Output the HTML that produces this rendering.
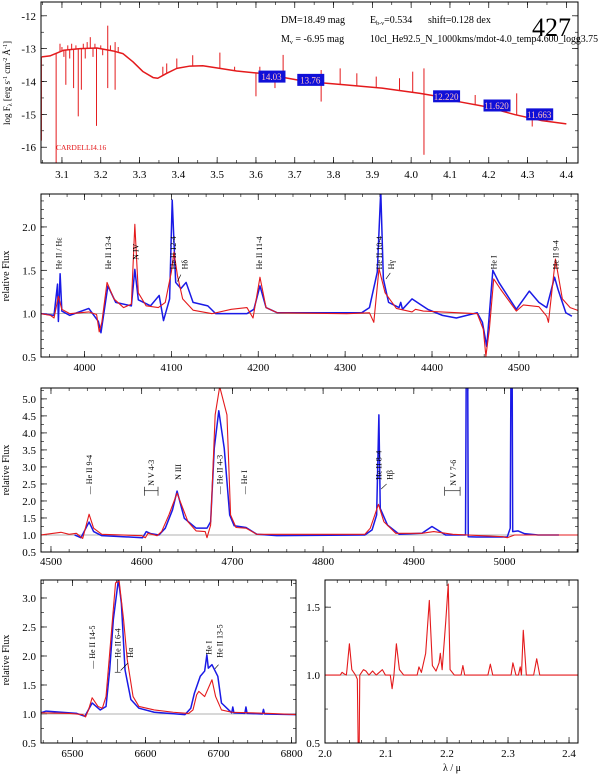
<!DOCTYPE html>
<html><head><meta charset="utf-8">
<style>
html,body{margin:0;padding:0;background:#fff;}
svg{display:block;font-family:"Liberation Serif",serif;}
</style></head>
<body>
<svg id="chart" width="600" height="775" viewBox="0 0 600 775" xmlns="http://www.w3.org/2000/svg"></svg>
<script>
// ---------- Panel 1: SED (log lambda vs log F) ----------
const sedLogLam = [3.048,3.069,3.104,3.147,3.19,3.232,3.257,3.283,3.309,3.335,3.347,3.37,3.396,3.43,3.463,3.507,3.55,3.61,3.729,3.827,3.925,4.023,4.072,4.121,4.19,4.268,4.337,4.40];
const sedLogF   = [-13.25,-13.22,-13.05,-13.0,-12.98,-13.07,-13.15,-13.40,-13.70,-13.88,-13.90,-13.75,-13.60,-13.53,-13.52,-13.60,-13.68,-13.75,-14.00,-14.10,-14.20,-14.36,-14.46,-14.61,-14.76,-15.01,-15.19,-15.29];
const sedSpikeLam = [3.047,3.085,3.142,3.15,3.189,3.218,3.237,3.13,3.11,3.6,3.218,3.237,3.173,3.136,3.1,3.396,3.437,3.507,3.36,3.37,3.545,3.61,3.095,3.105,3.115,3.12,3.125,3.155,3.16,3.165,3.18,3.185,3.2,3.205,3.225,3.245,3.649,3.67,3.768,3.768,3.817,3.86,3.91,3.97,4.004,4.033,4.033,4.165,4.272,4.312,4.35];
const sedSpikeTip = [-15.8,-16.5,-15.06,-14.25,-15.35,-14.2,-14.25,-14.2,-14.1,-14.45,-12.3,-12.8,-12.65,-12.9,-12.95,-13.3,-13.2,-13.12,-13.55,-13.45,-13.55,-13.55,-12.85,-13.25,-12.9,-13.3,-12.85,-12.85,-13.3,-12.8,-13.25,-12.85,-12.9,-13.2,-12.9,-12.95,-14.2,-13.19,-14.61,-13.65,-13.6,-13.75,-13.85,-13.9,-13.70,-16.23,-13.6,-14.41,-14.36,-15.37,-15.0];
const photLam = [3.64,3.74,4.09,4.22,4.33];
const photVal = [-13.85,-13.95,-14.45,-14.73,-15.0];
const photLabels = ["14.03","13.76","12.220","11.620","11.663"];
const p1XTicks = [3.1,3.2,3.3,3.4,3.5,3.6,3.7,3.8,3.9,4.0,4.1,4.2,4.3,4.4];
const p1YTicks = [-12,-13,-14,-15,-16];

// ---------- Panel 2: 3950-4570 ----------
const p2RedLam = [3950,3961,3965,3970,3974,3983,4005,4014,4017,4020,4026,4034,4045,4054,4058,4062,4071,4085,4093,4100,4103,4107,4113,4125,4147,4169,4187,4194,4202,4209,4222,4302,4328,4333,4339,4346,4359,4377,4381,4390,4452,4459,4462,4466,4471,4479,4497,4505,4523,4532,4534,4542,4550,4559,4570];
const p2RedVal = [1.00,0.98,0.95,1.20,1.05,1.00,1.02,0.99,0.79,0.90,1.36,1.17,1.07,1.11,2.03,1.24,1.09,1.07,1.13,1.48,1.71,1.44,1.17,1.04,1.00,1.05,1.07,0.95,1.42,1.07,1.01,1.00,1.01,0.90,1.52,1.24,1.06,1.02,1.05,1.03,1.00,0.82,0.51,0.82,1.40,1.28,1.03,1.10,1.08,0.97,0.90,1.63,1.17,1.07,1.03];
const p2BlueLam = [3950,3965,3969,3970,3972,3974,3983,4005,4016,4019,4027,4036,4054,4058,4062,4076,4086,4091,4098,4101,4105,4111,4117,4125,4142,4151,4187,4195,4202,4209,4222,4319,4328,4337,4341,4344,4350,4362,4364,4366,4377,4386,4395,4412,4428,4452,4458,4463,4470,4477,4497,4512,4523,4532,4541,4545,4554,4561];
const p2BlueVal = [1.00,0.98,1.34,0.91,1.46,1.03,0.98,1.06,0.91,0.78,1.32,1.13,1.09,1.51,1.16,1.09,1.21,0.92,1.17,2.31,1.36,1.29,1.36,1.13,1.09,1.00,1.00,1.05,1.32,1.07,1.01,1.01,1.07,1.48,2.42,1.40,1.13,1.07,1.13,1.05,1.17,1.11,1.05,0.98,0.95,1.01,0.90,0.62,1.50,1.36,1.05,1.26,1.13,1.07,1.42,1.28,1.01,0.97];
const p2LabelLam = [3970,4027,4059,4102,4115,4201,4339,4353,4471,4542];
const p2LabelText = ["He II / Hε","He II 13-4","N IV","He II 12-4","Hδ","He II 11-4","He II 10-4","Hγ","He I","He II 9-4"];
const p2LabelBase = [1.51,1.51,1.62,1.51,1.51,1.51,1.51,1.51,1.51,1.51];
const p2XTicks = [4000,4100,4200,4300,4400,4500];
const p2YTicks = [0.5,1.0,1.5,2.0];

// ---------- Panel 3: 4489-5081 ----------
const p3RedLam = [4489,4511,4520,4528,4535,4542,4547,4556,4600,4604,4607,4617,4622,4630,4639,4651,4660,4670,4672,4676,4681,4686,4694,4698,4704,4715,4727,4846,4848,4852,4861,4867,4880,4909,4922,4943,4998,5003,5011,5081];
const p3RedVal = [1.00,1.08,1.02,1.05,0.90,1.61,1.20,1.02,0.98,0.92,1.05,0.98,1.10,1.59,2.23,1.39,1.12,1.10,0.92,1.29,4.53,5.36,4.53,1.59,1.22,1.20,1.02,1.02,1.08,1.20,1.90,1.39,1.05,1.05,1.10,1.02,0.95,0.92,1.00,1.00];
const p3BlueLam = [4526,4533,4542,4547,4556,4601,4605,4610,4619,4626,4634,4639,4647,4660,4672,4676,4680,4685,4691,4697,4702,4715,4727,4749,4846,4854,4859,4861.5,4863,4871,4884,4909,4920,4926,4935,4957,4957.8,4959.4,4960,4969,5003,5006.3,5007.1,5008.4,5009,5015,5022,5037,5060];
const p3BlueVal = [1.00,0.92,1.38,1.10,0.98,0.92,1.10,1.04,1.00,1.20,1.74,2.29,1.49,1.20,1.20,1.39,3.55,4.65,3.55,1.59,1.27,1.22,1.02,0.98,1.00,1.15,1.59,4.53,1.78,1.29,1.02,1.05,1.25,1.15,1.00,1.00,6.0,6.0,0.95,0.94,0.94,1.20,6.0,6.0,1.10,1.12,1.04,1.00,1.00];
const p3LabelLam = [4542,4610,4640,4686,4713,4861,4873,4943];
const p3LabelText = ["— He II 9-4","N V 4-3","N III","— He II 4-3","— He I","He II 8-4","Hβ","N V 7-6"];
const p3LabelBase = [2.20,2.45,2.62,2.20,2.20,2.62,2.62,2.45];
const p3XTicks = [4500,4600,4700,4800,4900,5000];
const p3YTicks = [0.5,1.0,1.5,2.0,2.5,3.0,3.5,4.0,4.5,5.0];

// ---------- Panel 4: 6457-6806 ----------
const p4RedLam = [6457,6496,6514,6518,6522,6527,6535,6541,6546,6551,6559,6564,6570,6575,6583,6591,6612,6638,6659,6665,6670,6673,6681,6691,6696,6704,6718,6770,6806];
const p4RedVal = [1.02,1.01,0.99,0.95,1.07,1.28,1.13,1.10,1.30,2.05,3.26,3.29,2.63,1.94,1.30,1.13,1.07,1.03,1.01,1.07,1.33,1.39,1.30,1.59,1.30,1.07,1.03,1.01,0.99];
const p4BlueLam = [6457,6464,6506,6517,6527,6538,6546,6551,6556,6563,6567,6572,6580,6591,6612,6654,6662,6667,6675,6681,6684,6686,6691,6699,6704,6718,6719.5,6721,6736,6737.5,6739,6760,6761.5,6763,6806];
const p4BlueVal = [1.02,1.05,1.01,0.96,1.19,1.07,1.13,1.76,2.63,3.32,2.91,1.76,1.25,1.10,1.03,0.99,1.10,1.36,1.65,1.74,2.02,1.79,1.85,1.65,1.19,1.02,1.12,1.02,1.01,1.12,1.01,1.00,1.08,1.00,0.99];
const p4LabelLam = [6527,6562,6579,6686,6701];
const p4LabelText = ["— He II 14-5","He II 6-4","Hα","He I","He II 13-5"];
const p4LabelBase = [1.78,1.97,1.97,2.02,1.97];
const p4XTicks = [6500,6600,6700,6800];
const p4YTicks = [0.5,1.0,1.5,2.0,2.5,3.0];

// ---------- Panel 5: K band 2.0-2.415 micron ----------
const p5Lam = [2.000,2.025,2.028,2.031,2.035,2.036,2.040,2.044,2.050,2.053,2.0546,2.0559,2.057,2.063,2.067,2.072,2.078,2.084,2.094,2.099,2.107,2.110,2.113,2.117,2.122,2.129,2.151,2.154,2.158,2.165,2.171,2.176,2.182,2.187,2.189,2.192,2.198,2.202,2.205,2.212,2.223,2.226,2.229,2.254,2.267,2.271,2.275,2.305,2.308,2.313,2.317,2.320,2.322,2.325,2.330,2.342,2.347,2.352,2.415];
const p5Val = [1.00,1.00,1.02,1.01,1.00,1.04,1.23,1.04,1.00,0.97,0.40,0.40,1.00,1.04,1.03,1.00,1.03,1.00,1.04,1.00,1.00,0.90,1.00,1.23,1.04,1.00,1.00,1.06,1.02,1.16,1.55,1.07,1.03,1.09,1.16,1.04,1.40,1.67,1.04,1.00,1.00,1.07,1.00,1.00,1.00,1.08,1.00,1.00,1.09,1.00,1.00,1.06,1.00,1.33,1.00,1.00,1.12,1.00,1.00];
const p5XTicks = [2.0,2.1,2.2,2.3,2.4];
const p5YTicks = [0.5,1.0,1.5];

const NS = "http://www.w3.org/2000/svg";
const svg = document.getElementById('chart');
function mk(tag, attrs, parent){
  const e = document.createElementNS(NS, tag);
  for (const k in attrs) e.setAttribute(k, attrs[k]);
  (parent||svg).appendChild(e);
  return e;
}
function scale(d0,d1,p0,p1){ return v => p0 + (v-d0)/(d1-d0)*(p1-p0); }

function makePanel(name, L, R, T, B, x0, x1, y0, y1){
  const g = mk('g', {});
  
  
  const clipId = name + '-clip';
  const cp = mk('clipPath', {id: clipId}, g);
  mk('rect', {x:L, y:T, width:R-L, height:B-T}, cp);
  return {g, L, R, T, B, sx: scale(x0,x1,L,R), sy: scale(y0,y1,B,T), x0, x1, y0, y1, clip: 'url(#'+clipId+')'};
}
function frame(P){
  const r = mk('rect', {x:P.L, y:P.T, width:P.R-P.L, height:P.B-P.T, fill:'none', stroke:'#000', 'stroke-width':1}, P.g);
  
  
}
function xAxis(P, ticks, minorStep, fmt, labelY){
  const ax = mk('g', {}, P.g);
  
  
  for (let v = Math.ceil(P.x0/minorStep)*minorStep; v <= P.x1 + 1e-9; v += minorStep){
    const x = P.sx(v);
    mk('line', {x1:x, x2:x, y1:P.B, y2:P.B-3, stroke:'#000', 'stroke-width':0.6}, ax);
    mk('line', {x1:x, x2:x, y1:P.T, y2:P.T+3, stroke:'#000', 'stroke-width':0.6}, ax);
  }
  ticks.forEach(v => {
    const x = P.sx(v);
    mk('line', {x1:x, x2:x, y1:P.B, y2:P.B-6, stroke:'#000', 'stroke-width':0.7}, ax);
    mk('line', {x1:x, x2:x, y1:P.T, y2:P.T+6, stroke:'#000', 'stroke-width':0.7}, ax);
    const t = mk('text', {x:x, y:labelY, 'font-size':11, 'text-anchor':'middle', fill:'#000'}, ax);
    t.textContent = fmt(v);
    
    
  });
}
function yAxis(P, ticks, minorStep, fmt, labelX){
  const ax = mk('g', {}, P.g);
  
  
  const lo = Math.min(P.y0,P.y1), hi = Math.max(P.y0,P.y1);
  for (let v = Math.ceil(lo/minorStep)*minorStep; v <= hi + 1e-9; v += minorStep){
    const y = P.sy(v);
    mk('line', {x1:P.L, x2:P.L+3, y1:y, y2:y, stroke:'#000', 'stroke-width':0.6}, ax);
    mk('line', {x1:P.R, x2:P.R-3, y1:y, y2:y, stroke:'#000', 'stroke-width':0.6}, ax);
  }
  ticks.forEach(v => {
    const y = P.sy(v);
    mk('line', {x1:P.L, x2:P.L+6, y1:y, y2:y, stroke:'#000', 'stroke-width':0.7}, ax);
    mk('line', {x1:P.R, x2:P.R-6, y1:y, y2:y, stroke:'#000', 'stroke-width':0.7}, ax);
    const t = mk('text', {x:labelX, y:y+4, 'font-size':11, 'text-anchor':'end', fill:'#000'}, ax);
    t.textContent = fmt(v);
    
    
  });
}
function series(P, xs, ys, color, w, name){
  const d = xs.map((x,i)=> (i?'L':'M') + P.sx(x).toFixed(2) + ' ' + P.sy(ys[i]).toFixed(2)).join(' ');
  const p = mk('path', {d, fill:'none', stroke:color, 'stroke-width':w, 'clip-path':P.clip, 'stroke-linejoin':'round'}, P.g);
  
  
}
function unity(P){
  const l = mk('line', {x1:P.L, x2:P.R, y1:P.sy(1), y2:P.sy(1), stroke:'#999', 'stroke-width':0.8}, P.g);
  
  
}
function lineLabels(P, lams, texts, bases){
  lams.forEach((lam,i)=>{
    const x = P.sx(lam), y = P.sy(bases[i]);
    const t = mk('text', {x:0, y:0, 'font-size':8, fill:'#000', transform:'translate('+(x+3).toFixed(1)+','+y.toFixed(1)+') rotate(-90)'}, P.g);
    t.textContent = texts[i];
    
    
  });
}
function yTitle(x, y, text){
  const t = mk('text', {x:0, y:0, 'font-size':10, 'text-anchor':'middle', fill:'#000', transform:'translate('+x+','+y+') rotate(-90)'});
  t.textContent = text;
  
  
  return t;
}

// ===== Panel 1 =====
const P1 = makePanel('sed-panel', 41, 578, 2, 163, 3.046, 4.43, -16.48, -11.58);
xAxis(P1, p1XTicks, 0.05, v=>v.toFixed(1), 178);
yAxis(P1, p1YTicks, 0.5, v=>String(v), 36);
series(P1, sedLogLam, sedLogF, '#e41a1c', 1.5, 'sed-model-curve');
(function(){
  const g = mk('g', {'clip-path':P1.clip}, P1.g);
  
  
  sedSpikeLam.forEach((lam,i)=>{
    let base = sedLogF[0];
    for (let k=0;k<sedLogLam.length-1;k++){ if (lam>=sedLogLam[k] && lam<=sedLogLam[k+1]){ const f=(lam-sedLogLam[k])/(sedLogLam[k+1]-sedLogLam[k]); base = sedLogF[k]+f*(sedLogF[k+1]-sedLogF[k]); } }
    mk('line', {x1:P1.sx(lam), x2:P1.sx(lam), y1:P1.sy(base), y2:P1.sy(sedSpikeTip[i]), stroke:'#e41a1c', 'stroke-width':1}, g);
  });
})();
photLam.forEach((lam,i)=>{
  const x = P1.sx(lam), y = P1.sy(photVal[i]);
  const r = mk('rect', {x:x-13, y:y-6, width:27, height:12, fill:'#1010d8'}, P1.g);
  
  
  const t = mk('text', {x:x, y:y+3.5, 'font-size':9, 'text-anchor':'middle', fill:'#ffc0c0'}, P1.g);
  t.textContent = photLabels[i];
  
  
});
(function(){
  const info = [
    [281,23,'DM=18.49 mag'],[428,23,'shift=0.128 dex']
  ];
  info.forEach(a=>{
    const t = mk('text', {x:a[0], y:a[1], 'font-size':10, fill:'#000'});
    t.textContent = a[2];
    
    
  });
  const mt = mk('text', {x:370, y:42, 'font-size':10, fill:'#000', textLength:228, lengthAdjust:'spacingAndGlyphs'});
  mt.textContent = '10cl_He92.5_N_1000kms/mdot-4.0_temp4.600_logg3.75';
  
  
  const e = mk('text', {x:370, y:23, 'font-size':10, fill:'#000'});
  e.innerHTML = 'E<tspan font-size="6" dy="2">b-v</tspan><tspan dy="-2">=0.534</tspan>';
  
  
  const m = mk('text', {x:281, y:42, 'font-size':10, fill:'#000'});
  m.innerHTML = 'M<tspan font-size="6" dy="2">v</tspan><tspan dy="-2"> =  -6.95 mag</tspan>';
  
  
  const n = mk('text', {x:532, y:36, 'font-size':26, fill:'#000'});
  n.textContent = '427';
  
  
  const c = mk('text', {x:56, y:150, 'font-size':7.5, fill:'#e41a1c'});
  c.textContent = 'CARDELLI4.16';
  
  
  const yt = mk('text', {x:0, y:0, 'font-size':9, 'text-anchor':'middle', fill:'#000', transform:'translate(10,83) rotate(-90)'});
  yt.innerHTML = 'log F<tspan font-size="6" dy="2">λ</tspan><tspan dy="-2"> [erg s</tspan><tspan font-size="6" dy="-3">-1</tspan><tspan dy="3"> cm</tspan><tspan font-size="6" dy="-3">-2</tspan><tspan dy="3"> Å</tspan><tspan font-size="6" dy="-3">-1</tspan><tspan dy="3">]</tspan>';
  
  
})();
frame(P1);

// ===== Panel 2 =====
const P2 = makePanel('blue-optical-panel', 41, 578, 194, 357, 3950, 4568, 0.5, 2.38);
xAxis(P2, p2XTicks, 20, v=>String(v), 371);
yAxis(P2, p2YTicks, 0.1, v=>v.toFixed(1), 36);
unity(P2);
series(P2, p2BlueLam, p2BlueVal, '#1a1ae6', 1.5, 'observed-spectrum');
series(P2, p2RedLam, p2RedVal, '#e41a1c', 1.1, 'model-spectrum');
lineLabels(P2, p2LabelLam, p2LabelText, p2LabelBase);
[[4107,1.37,4111,1.45],[4347,1.40,4352,1.47]].forEach(s=>{
  const l = mk('line', {x1:P2.sx(s[0]), y1:P2.sy(s[1]), x2:P2.sx(s[2]), y2:P2.sy(s[3]), stroke:'#000', 'stroke-width':0.6}, P2.g);
  
  
});
yTitle(9, 276, 'relative Flux');
frame(P2);

// ===== Panel 3 =====
const P3 = makePanel('green-optical-panel', 41, 578, 388, 552, 4489, 5081, 0.5, 5.32);
xAxis(P3, p3XTicks, 20, v=>String(v), 565);
yAxis(P3, p3YTicks, 0.25, v=>v.toFixed(1), 36);
unity(P3);
series(P3, p3BlueLam, p3BlueVal, '#1a1ae6', 1.5, 'observed-spectrum');
series(P3, p3RedLam, p3RedVal, '#e41a1c', 1.1, 'model-spectrum');
lineLabels(P3, p3LabelLam, p3LabelText, p3LabelBase);
[[4603,4618],[4934,4951]].forEach(b=>{
  const g = mk('g', {}, P3.g);
  
  
  const y = P3.sy(2.3);
  mk('line', {x1:P3.sx(b[0]), x2:P3.sx(b[1]), y1:y, y2:y, stroke:'#000', 'stroke-width':0.6}, g);
  mk('line', {x1:P3.sx(b[0]), x2:P3.sx(b[0]), y1:y-4, y2:y+5, stroke:'#000', 'stroke-width':0.6}, g);
  mk('line', {x1:P3.sx(b[1]), x2:P3.sx(b[1]), y1:y-4, y2:y+5, stroke:'#000', 'stroke-width':0.6}, g);
});
(function(){
  const l = mk('line', {x1:P3.sx(4864), y1:P3.sy(2.35), x2:P3.sx(4870), y2:P3.sy(2.5), stroke:'#000', 'stroke-width':0.6}, P3.g);
  
  
})();
yTitle(9, 470, 'relative Flux');
frame(P3);

// ===== Panel 4 =====
const P4 = makePanel('halpha-panel', 41, 296, 580, 743, 6457, 6806, 0.5, 3.31);
xAxis(P4, p4XTicks, 20, v=>String(v), 757);
yAxis(P4, p4YTicks, 0.25, v=>v.toFixed(1), 36);
unity(P4);
series(P4, p4BlueLam, p4BlueVal, '#1a1ae6', 1.5, 'observed-spectrum');
series(P4, p4RedLam, p4RedVal, '#e41a1c', 1.1, 'model-spectrum');
lineLabels(P4, p4LabelLam, p4LabelText, p4LabelBase);
[[6562,1.72,6562,1.95],[6558,1.72,6566,1.72],[6566,1.75,6576,1.88],[6700,1.85,6695,1.78]].forEach(s=>{
  const l = mk('line', {x1:P4.sx(s[0]), y1:P4.sy(s[1]), x2:P4.sx(s[2]), y2:P4.sy(s[3]), stroke:'#000', 'stroke-width':0.6}, P4.g);
  
  
});
yTitle(9, 660, 'relative Flux');
frame(P4);

// ===== Panel 5 =====
const P5 = makePanel('k-band-panel', 325, 578, 580, 743, 2.0, 2.4147, 0.5, 1.70);
xAxis(P5, p5XTicks, 0.02, v=>v.toFixed(1), 757);
yAxis(P5, p5YTicks, 0.25, v=>v.toFixed(1), 320);
unity(P5);
series(P5, p5Lam, p5Val, '#e41a1c', 1.1, 'model-spectrum');
(function(){
  const t = mk('text', {x:452, y:771, 'font-size':10, 'text-anchor':'middle', fill:'#000'});
  t.textContent = 'λ / μ';
  
  
})();
frame(P5);
</script>
</body></html>
